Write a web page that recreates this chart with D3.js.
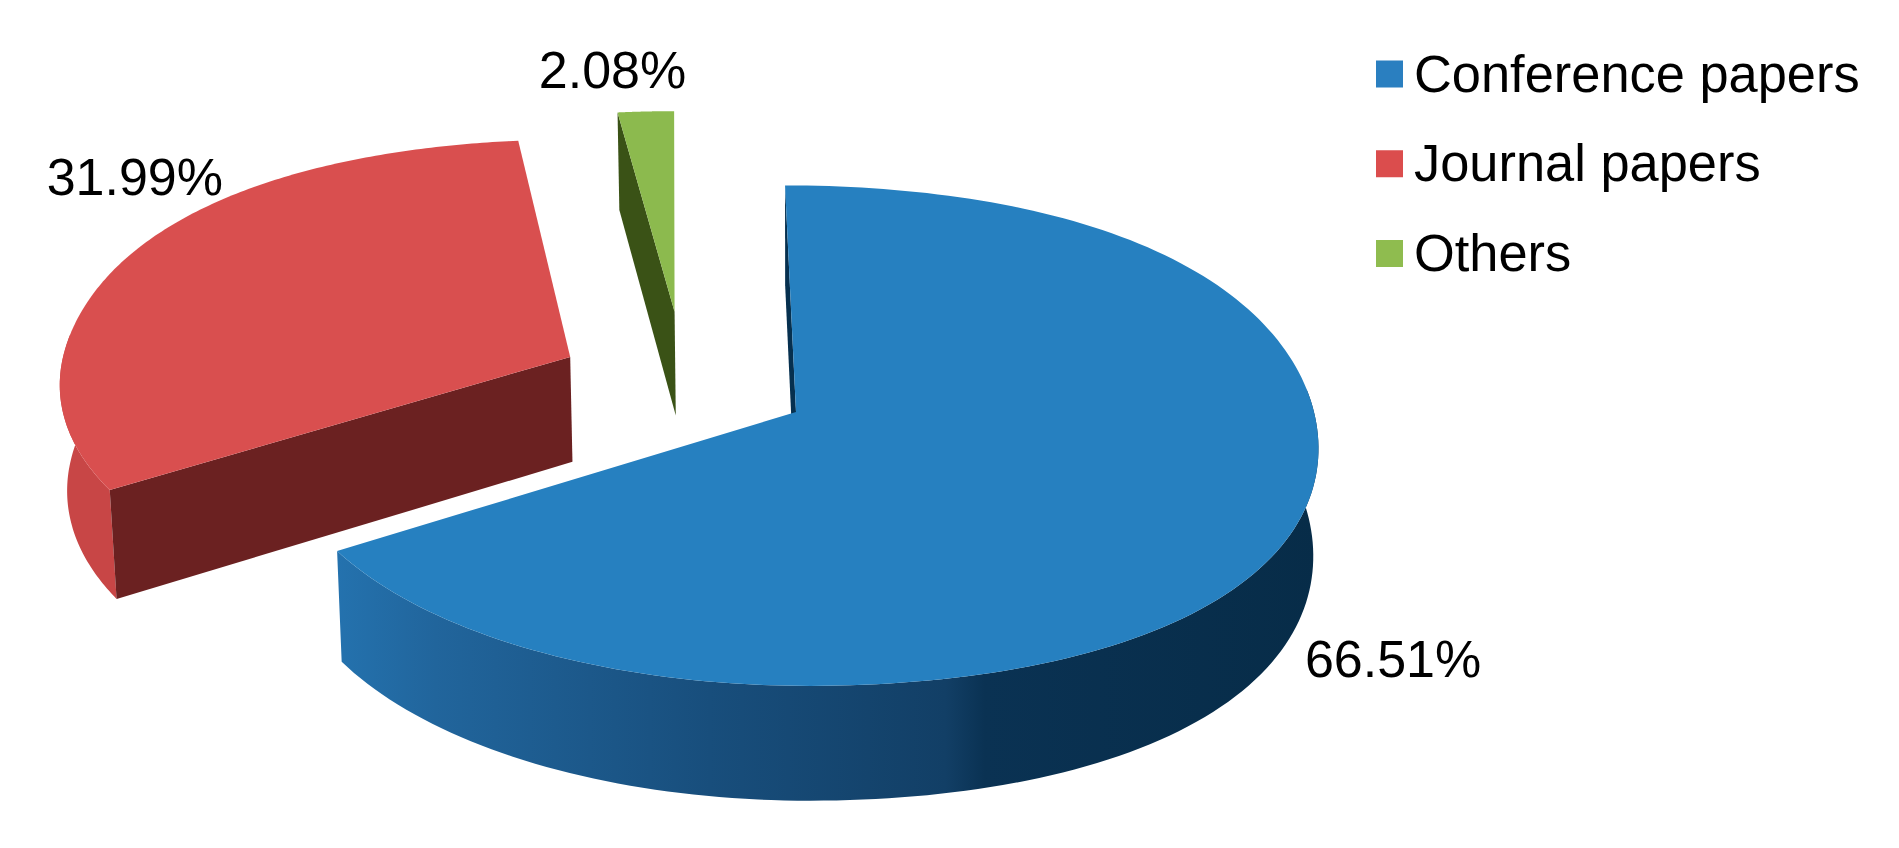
<!DOCTYPE html>
<html>
<head>
<meta charset="utf-8">
<script src="https://cdn.jsdelivr.net/npm/d3@7"></script>
<style>
    html, body { margin: 0; padding: 0; background: #fff; overflow: hidden; }
    text { font-family: "Liberation Sans", Arial, sans-serif; fill: #000; }
</style>
</head>
<body>
<svg id="chart" width="1899" height="848"></svg>
<script>
const categories = ["Conference papers", "Journal papers", "Others"];
const percents = [66.51, 31.99, 2.08];
const labels = ["66.51%", "31.99%", "2.08%"];

// top face, outer wall and cut wall colours per slice
const topColors = ["#2680c0", "#d94f4f", "#8cba4e"];
const wallColors = ["url(#blueWall)", "#c84646", "#3a5216"];
const cutColors = ["#06304f", "#6b2121", "#3a5216"];
const legendColors = ["#2a7fc0", "#db4d4d", "#8fbc4f"];

// slice layout: how far each slice is pulled out on the disc, its radius, label offset
const explode = [[0, 0], [-0.44, 0.227], [-0.234, 0.42]];
const radius = [1, 1, 0.95];
const labelOffset = [[19, 136], [-80, -63], [-107, -23]];

const cx = 796, cy = 412, rx = 518, ry = 248;
const perspective = 0.0945, shear = -12, bulge = 0.025;
const depth = 106.6, depthGrow = 0.03, bottomShrink = 0.01;

const svg = d3.select("#chart");

const xDisc = d3.scaleLinear().domain([-1, 1]).range([cx - rx, cx + rx]);
const yDisc = d3.scaleLinear().domain([-1, 1]).range([cy + ry, cy - ry]);

const project = (i, angle, r) => {
    const s = Math.sin(angle), c = Math.cos(angle);
    // the rim in the picture is a little fuller than an ellipse on the diagonals,
    // except the lower left one
    const b = s < 0 && c < 0 ? bulge * 0.3 : bulge;
    const rr = r * (1 + b * Math.sin(2 * angle) ** 2);
    const u = rr * s + explode[i][0];
    const v = rr * c + explode[i][1];
    const w = 1 / (1 + perspective * v);
    return [cx + (xDisc(u) - cx + shear * v) * w, cy + (yDisc(v) - cy) * w];
};

// the bottom rim is the top rim pushed down and drawn slightly narrower
const drop = ([x, y]) => [x + (cx - x) * bottomShrink, y + depth + depthGrow * (y - cy)];

const line = d3.line();

const defs = svg.append("defs");
const blueWall = defs.append("linearGradient").attr("id", "blueWall");
[[0, "#2472ae"], [0.1, "#21659c"], [0.38, "#184e7c"], [0.62, "#123f66"], [0.66, "#0a3253"], [1, "#072c48"]]
    .forEach(([o, c]) => blueWall.append("stop").attr("offset", o).attr("stop-color", c));

const arcs = d3.pie().sort(null).value(d => d)(percents);

// back slices first
d3.range(arcs.length - 1, -1, -1).forEach(i => {
    const a = arcs[i];
    const r = radius[i];
    const angles = d3.range(0, 181).map(t => a.startAngle + (a.endAngle - a.startAngle) * t / 180);
    const rim = angles.map(t => project(i, t, r));
    const apex = project(i, 0, 0);
    const g = svg.append("g");

    // outer wall, front part of the rim only
    const front = angles.filter(t => Math.cos(t) < 0.1).map(t => project(i, t, r));
    if (front.length) {
        g.append("path")
            .attr("d", line(front.concat(front.map(drop).reverse())) + "Z")
            .attr("fill", wallColors[i]);
    }

    // cut walls, only those turned towards the viewer
    if (Math.sin(a.startAngle) <= 0) {
        g.append("path")
            .attr("d", line([rim[0], apex, drop(apex), drop(rim[0])]) + "Z")
            .attr("fill", cutColors[i]);
    }
    if (Math.sin(a.endAngle) > 1e-9) {
        g.append("path")
            .attr("d", line([rim[180], apex, drop(apex), drop(rim[180])]) + "Z")
            .attr("fill", cutColors[i]);
    }

    g.append("path")
        .attr("d", line([apex].concat(rim)) + "Z")
        .attr("fill", topColors[i]);

    const mid = project(i, (a.startAngle + a.endAngle) / 2, r);
    svg.append("text")
        .attr("x", mid[0] + labelOffset[i][0])
        .attr("y", mid[1] + labelOffset[i][1])
        .attr("font-size", 52)
        .text(labels[i]);
});

// legend
const legendY = d3.scalePoint().domain(categories).range([74.5, 254]);
const legend = svg.append("g").selectAll("g")
    .data(categories)
    .join("g")
    .attr("transform", d => `translate(1376,${legendY(d)})`);

legend.append("rect")
    .attr("y", -14)
    .attr("width", 27)
    .attr("height", 27)
    .attr("fill", (d, i) => legendColors[i]);

legend.append("text")
    .attr("x", 38)
    .attr("y", 17)
    .attr("font-size", 52.4)
    .text(d => d);
</script>
</body>
</html>
